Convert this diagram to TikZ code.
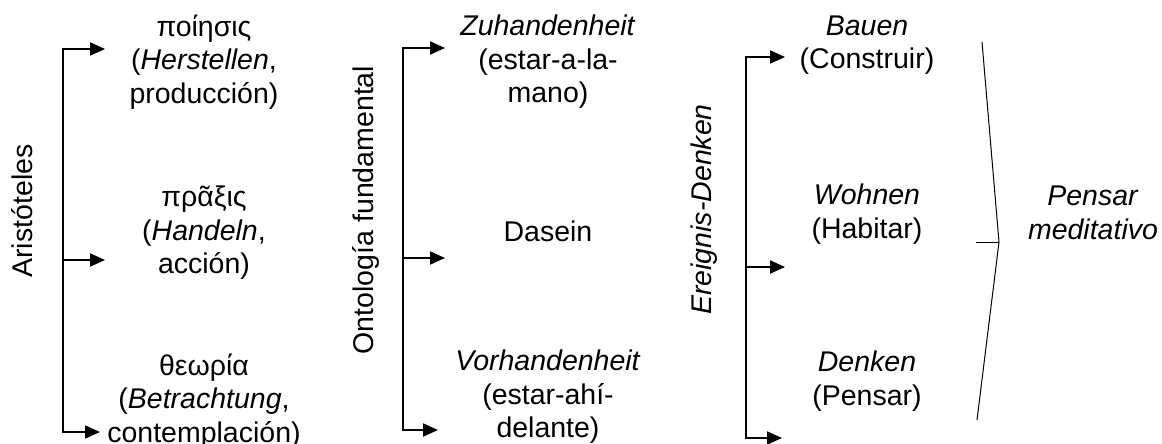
\documentclass[tikz,border=0pt]{standalone}
\usepackage{fontspec}
\setmainfont{Liberation Sans}
\usetikzlibrary{arrows.meta}
\begin{document}
\begin{tikzpicture}[x=1pt,y=-1pt,
  txt/.style={inner sep=0pt,align=center,font=\fontsize{28.5}{33.5}\selectfont},
  vlabel/.style={inner sep=0pt,rotate=90,font=\fontsize{28.5}{33.5}\selectfont},
  bracket/.style={line width=2pt,{Triangle[length=15pt,width=13pt]}-{Triangle[length=15pt,width=13pt]}},
  branch/.style={line width=2pt,-{Triangle[length=15pt,width=13pt]}},
  angle/.style={line width=1pt}]
\useasboundingbox (0,0) rectangle (1162,444);

% --- Aristotle ---
\node[vlabel] (ari) at (22.5,211) {Aristóteles};
\coordinate (a1) at (62.7,49);  \coordinate (a1t) at (105,49);
\coordinate (a2) at (62.7,260); \coordinate (a2t) at (105,260);
\coordinate (a3) at (62.7,432); \coordinate (a3t) at (100,432);
\draw[bracket] (a1t) -- (a1) -- (a3) -- (a3t);
\draw[branch] (a2) -- (a2t);
\node[txt] (poiesis) at (204,62) {ποίησις\\(\textit{Herstellen},\\producción)};
\node[txt] (praxis) at (204,233) {πρᾶξις\\(\textit{Handeln},\\acción)};
\node[txt] (theoria) at (204,401) {θεωρία\\(\textit{Betrachtung},\\contemplación)};

% --- Fundamental ontology ---
\node[vlabel] (onto) at (365.5,210) {Ontología fundamental};
\coordinate (o1) at (403,48);  \coordinate (o1t) at (445,48);
\coordinate (o2) at (403,258); \coordinate (o2t) at (445,258);
\coordinate (o3) at (403,430); \coordinate (o3t) at (438,430);
\draw[bracket] (o1t) -- (o1) -- (o3) -- (o3t);
\draw[branch] (o2) -- (o2t);
\node[txt] (zuh) at (548,62) {\textit{Zuhandenheit}\\(estar-a-la-\\mano)};
\node[txt] (dasein) at (548,231) {Dasein};
\node[txt] (vorh) at (548,397) {\textit{Vorhandenheit}\\(estar-ahí-\\delante)};

% --- Ereignis-Denken ---
\node[vlabel] (ereig) at (704.5,209.5) {\textit{Ereignis-Denken}};
\coordinate (e1) at (746,57);  \coordinate (e1t) at (785,57);
\coordinate (e2) at (746,267); \coordinate (e2t) at (785,267);
\coordinate (e3) at (746,438); \coordinate (e3t) at (782,438);
\draw[bracket] (e1t) -- (e1) -- (e3) -- (e3t);
\draw[branch] (e2) -- (e2t);
\node[txt] (bauen) at (867,45) {\textit{Bauen}\\(Construir)};
\node[txt] (wohnen) at (867,214) {\textit{Wohnen}\\(Habitar)};
\node[txt] (denken) at (867,381) {\textit{Denken}\\(Pensar)};

% --- converging angle ---
\coordinate (g1) at (982,42);
\coordinate (g2) at (999,242);
\coordinate (g3) at (977,420);
\coordinate (g0) at (976,242);
\draw[angle] (g1) -- (g2) -- (g3);
\draw[angle] (g0) -- (g2);
\node[txt] (pensar) at (1093,213) {\textit{Pensar}\\\textit{meditativo}};
\end{tikzpicture}
\end{document}
